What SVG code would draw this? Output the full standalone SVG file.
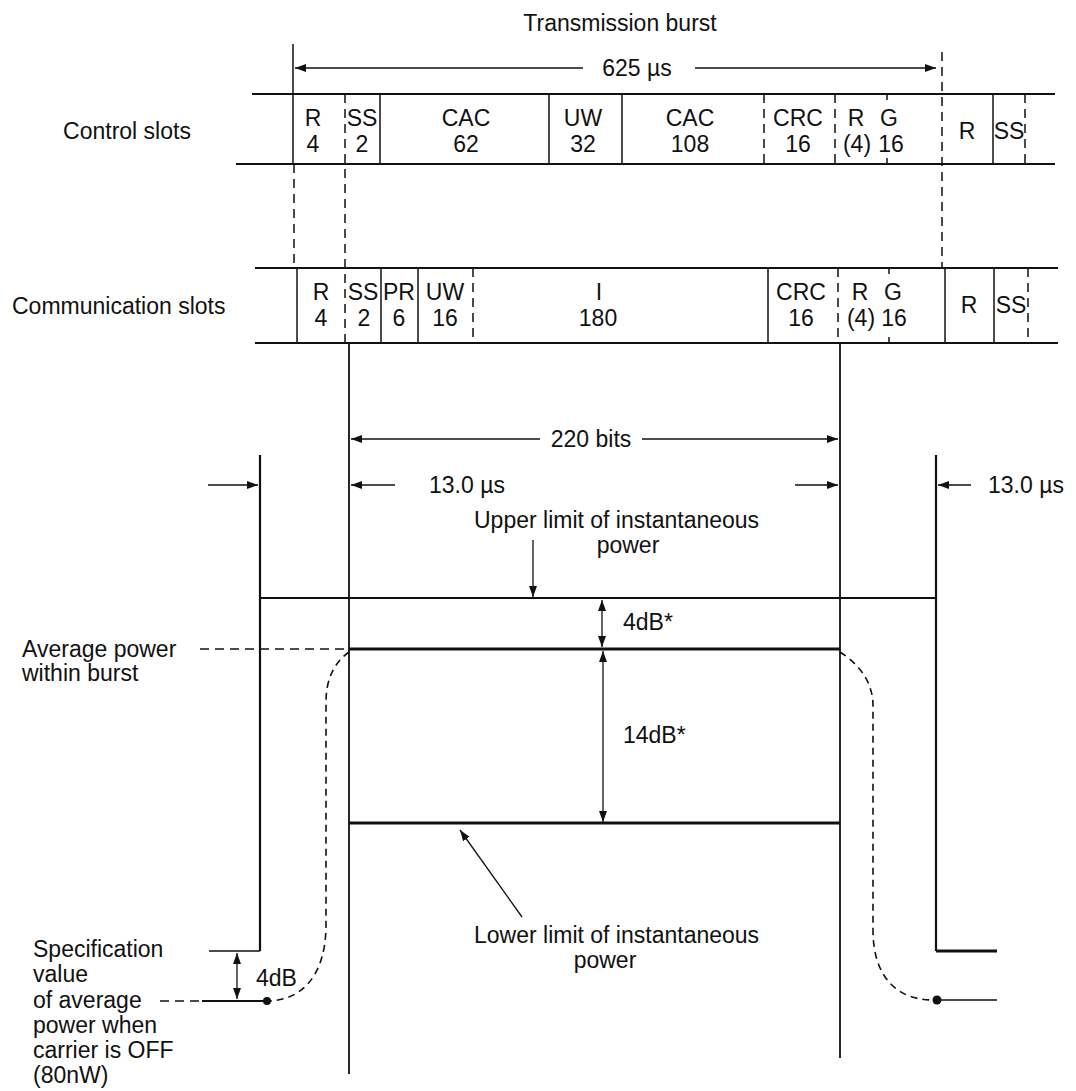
<svg xmlns="http://www.w3.org/2000/svg" width="1076" height="1091" viewBox="0 0 1076 1091">
<defs>
<marker id="ah" viewBox="0 0 11 8" refX="11" refY="4" markerWidth="11" markerHeight="8" markerUnits="userSpaceOnUse" orient="auto-start-reverse"><path d="M0,0 L11,4 L0,8 Z" fill="#111"/></marker>
</defs>
<style>
text{font-family:"Liberation Sans",Arial,sans-serif;font-size:23px;fill:#111}
.m{text-anchor:middle}
.ln{stroke:#111;stroke-width:1.5;fill:none}
.in{stroke:#111;stroke-width:1.8;fill:none}
.thk{stroke:#111;stroke-width:2.2;fill:none}
.hv{stroke:#111;stroke-width:3;fill:none}
.dsh{stroke:#111;stroke-width:1.5;stroke-dasharray:9 6;fill:none}
.crv{stroke:#111;stroke-width:1.6;stroke-dasharray:7 5;fill:none}
.a1{stroke:#111;stroke-width:1.3;fill:none;marker-end:url(#ah)}
.a2{stroke:#111;stroke-width:1.3;fill:none;marker-start:url(#ah);marker-end:url(#ah)}
</style>
<rect width="1076" height="1091" fill="#fff"/>

<g id="title"><text class="m" x="620" y="31">Transmission burst</text></g>

<g id="connectors">
<line class="ln" x1="293" y1="44" x2="293" y2="164"/>
<line class="dsh" x1="294" y1="164" x2="294" y2="268"/>
<line class="dsh" x1="942" y1="52" x2="942" y2="268"/>
<line class="a1" x1="583" y1="68" x2="295" y2="68"/>
<line class="a1" x1="695" y1="68" x2="936" y2="68"/>
<line class="dsh" x1="345" y1="94" x2="345" y2="343"/>
<line class="in" x1="349" y1="343" x2="349" y2="1074"/>
<line class="dsh" x1="838" y1="268" x2="838" y2="343"/>
<line class="in" x1="840" y1="343" x2="840" y2="1058"/>
<line class="a1" x1="540" y1="439" x2="351" y2="439"/>
<line class="a1" x1="642" y1="439" x2="838" y2="439"/>
<line class="a1" x1="208" y1="485" x2="258" y2="485"/>
<line class="a1" x1="395" y1="485" x2="351" y2="485"/>
<line class="a1" x1="795" y1="485" x2="838" y2="485"/>
<line class="a1" x1="971" y1="485" x2="938" y2="485"/>
<line class="a1" x1="533" y1="540" x2="533" y2="597"/>
<line class="a2" x1="602" y1="600" x2="602" y2="647"/>
<line class="a2" x1="603" y1="651" x2="603" y2="822"/>
<line class="a1" x1="522" y1="917" x2="460" y2="830"/>
<line class="dsh" x1="200" y1="649" x2="349" y2="649"/>
<line class="dsh" x1="160" y1="1001" x2="200" y2="1001"/>
<line class="a2" x1="237" y1="953" x2="237" y2="999"/>
</g>

<g id="control-slots">
<text class="m" x="127" y="139">Control slots</text>
<line class="thk" x1="252" y1="94" x2="1055" y2="94"/>
<line class="thk" x1="236" y1="164" x2="1055" y2="164"/>
<line class="ln" x1="380" y1="94" x2="380" y2="164"/>
<line class="ln" x1="549" y1="94" x2="549" y2="164"/>
<line class="ln" x1="622" y1="94" x2="622" y2="164"/>
<line class="dsh" x1="764" y1="94" x2="764" y2="164"/>
<line class="dsh" x1="835" y1="94" x2="835" y2="164"/>
<line class="ln" x1="993" y1="94" x2="993" y2="164"/>
<line class="dsh" x1="1025" y1="94" x2="1025" y2="164"/>
<line class="ln" x1="887" y1="94" x2="887" y2="100"/>
<line class="ln" x1="887" y1="158" x2="887" y2="164"/>
<text class="m" x="313" y="126">R</text><text class="m" x="313" y="152">4</text>
<text class="m" x="362" y="126">SS</text><text class="m" x="362" y="152">2</text>
<text class="m" x="466" y="126">CAC</text><text class="m" x="466" y="152">62</text>
<text class="m" x="583" y="126">UW</text><text class="m" x="583" y="152">32</text>
<text class="m" x="690" y="126">CAC</text><text class="m" x="690" y="152">108</text>
<text class="m" x="798" y="126">CRC</text><text class="m" x="798" y="152">16</text>
<text class="m" x="856" y="126">R</text><text class="m" x="889" y="126">G</text>
<text class="m" x="857" y="152">(4)</text><text class="m" x="891" y="152">16</text>
<text class="m" x="967" y="139">R</text>
<text class="m" x="1009" y="139">SS</text>
</g>

<g id="communication-slots">
<text x="12" y="314">Communication slots</text>
<line class="thk" x1="255" y1="268" x2="1058" y2="268"/>
<line class="thk" x1="255" y1="343" x2="1058" y2="343"/>
<line class="ln" x1="297" y1="268" x2="297" y2="343"/>
<line class="ln" x1="381" y1="268" x2="381" y2="343"/>
<line class="ln" x1="418" y1="268" x2="418" y2="343"/>
<line class="dsh" x1="473" y1="268" x2="473" y2="343"/>
<line class="ln" x1="768" y1="268" x2="768" y2="343"/>
<line class="ln" x1="945" y1="268" x2="945" y2="343"/>
<line class="ln" x1="994" y1="268" x2="994" y2="343"/>
<line class="dsh" x1="1028" y1="268" x2="1028" y2="343"/>
<line class="ln" x1="889" y1="268" x2="889" y2="274"/>
<line class="ln" x1="889" y1="337" x2="889" y2="343"/>
<text class="m" x="321" y="300">R</text><text class="m" x="321" y="326">4</text>
<text class="m" x="363" y="300">SS</text><text class="m" x="364" y="326">2</text>
<text class="m" x="399" y="300">PR</text><text class="m" x="399" y="326">6</text>
<text class="m" x="445" y="300">UW</text><text class="m" x="445" y="326">16</text>
<text class="m" x="599" y="300">I</text><text class="m" x="598" y="326">180</text>
<text class="m" x="801" y="300">CRC</text><text class="m" x="801" y="326">16</text>
<text class="m" x="860" y="300">R</text><text class="m" x="893" y="300">G</text>
<text class="m" x="861" y="326">(4)</text><text class="m" x="894" y="326">16</text>
<text class="m" x="969" y="313">R</text>
<text class="m" x="1011" y="313">SS</text>
</g>

<g id="dimension-labels">
<text class="m" x="637" y="76">625 µs</text>
<text class="m" x="591" y="447">220 bits</text>
<text x="429" y="493">13.0 µs</text>
<text x="988" y="493">13.0 µs</text>
</g>

<g id="power-profile">
<line class="thk" x1="260" y1="455" x2="260" y2="951"/>
<line class="ln" x1="209" y1="951" x2="260" y2="951"/>
<line class="thk" x1="936" y1="455" x2="936" y2="951"/>
<line class="hv" x1="936" y1="951" x2="997" y2="951"/>
<line class="thk" x1="260" y1="598" x2="936" y2="598"/>
<line class="hv" x1="349" y1="649" x2="840" y2="649"/>
<line class="hv" x1="349" y1="823" x2="840" y2="823"/>
<path class="crv" d="M349,652 C335,662 326,678 326,702 L326,925 C326,975 302,1001 267,1001"/>
<path class="crv" d="M840,652 C857,663 873,680 873,706 L873,930 C873,978 898,1000 933,1000"/>
<line class="thk" x1="202" y1="1001" x2="267" y2="1001"/>
<circle cx="267" cy="1001" r="4" fill="#111"/>
<circle cx="937" cy="1000" r="4.5" fill="#111"/>
<line class="ln" x1="937" y1="1000" x2="997" y2="1000"/>
</g>

<g id="annotations">
<text x="474" y="528">Upper limit of instantaneous</text>
<text class="m" x="628" y="553">power</text>
<text x="22" y="657">Average power</text>
<text x="22" y="681">within burst</text>
<text x="623" y="630">4dB*</text>
<text x="623" y="743">14dB*</text>
<text x="474" y="943">Lower limit of instantaneous</text>
<text class="m" x="605" y="968">power</text>
<text x="256" y="986">4dB</text>
<text x="33" y="957">Specification</text>
<text x="33" y="982">value</text>
<text x="33" y="1008">of average</text>
<text x="33" y="1033">power when</text>
<text x="33" y="1058">carrier is OFF</text>
<text x="33" y="1083">(80nW)</text>
</g>
</svg>
